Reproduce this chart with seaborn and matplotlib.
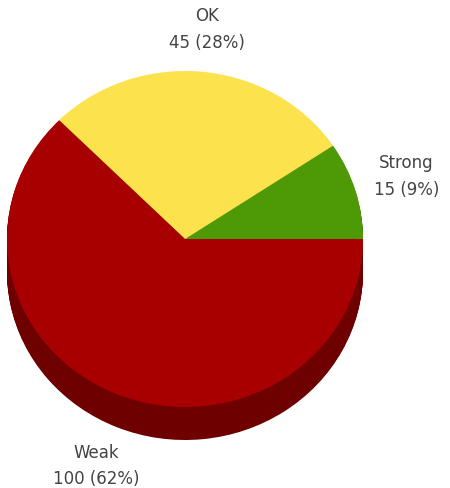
import numpy as np
import matplotlib
matplotlib.use("Agg")
import matplotlib.pyplot as plt
import seaborn as sns

labels = ["Strong", "OK", "Weak"]
values = [15, 45, 100]
percents = ["9%", "28%", "62%"]
top_colors = ["#4e9a06", "#fce24c", "#a80000"]
side_colors = ["#2f5e03", "#a8962f", "#6e0000"]

sns.set_theme(style="white")
plt.rcParams["font.family"] = ["DejaVu Sans"]

W, H = 450, 489
fig = plt.figure(figsize=(W / 100, H / 100), dpi=100)
ax = fig.add_axes([0, 0, 1, 1])

# pixel geometry of the tilted pie
cx, cy = 185, 489 - 240
rx, ry = 178, 168
depth = 33

# data units: one radius = rx px horizontally, ry px vertically
x0, y0 = cx / rx, cy / ry

# side walls: stacked pies shifted down
n_layers = 40
for k in range(n_layers, 0, -1):
    off = depth * k / n_layers / ry
    ax.pie(values, colors=side_colors, startangle=0, counterclock=True,
           center=(x0, y0 - off), radius=1.0,
           wedgeprops=dict(linewidth=0, antialiased=True))

# top face
wedges, _ = ax.pie(values, colors=top_colors, startangle=0, counterclock=True,
                   center=(x0, y0), radius=1.0,
                   wedgeprops=dict(linewidth=0, antialiased=True))

ax.set_aspect("auto")
ax.set_xlim(0, W / rx)
ax.set_ylim(0, H / ry)
ax.axis("off")

# labels around the pie
total = sum(values)
start = 0.0
dist = [1.3, 1.26, 1.3]
extra = [0, 0, -24 / ry]
for i, (lab, v, p) in enumerate(zip(labels, values, percents)):
    mid = np.deg2rad(start + v / total * 360 / 2)
    start += v / total * 360
    tx = x0 + dist[i] * np.cos(mid)
    ty = y0 + dist[i] * np.sin(mid) + extra[i]
    ax.text(tx, ty, f"{lab}\n{v} ({p})", ha="center", va="center",
            fontsize=12, color="#444444", linespacing=1.6)

fig.savefig("out.png", dpi=100, facecolor="white")
